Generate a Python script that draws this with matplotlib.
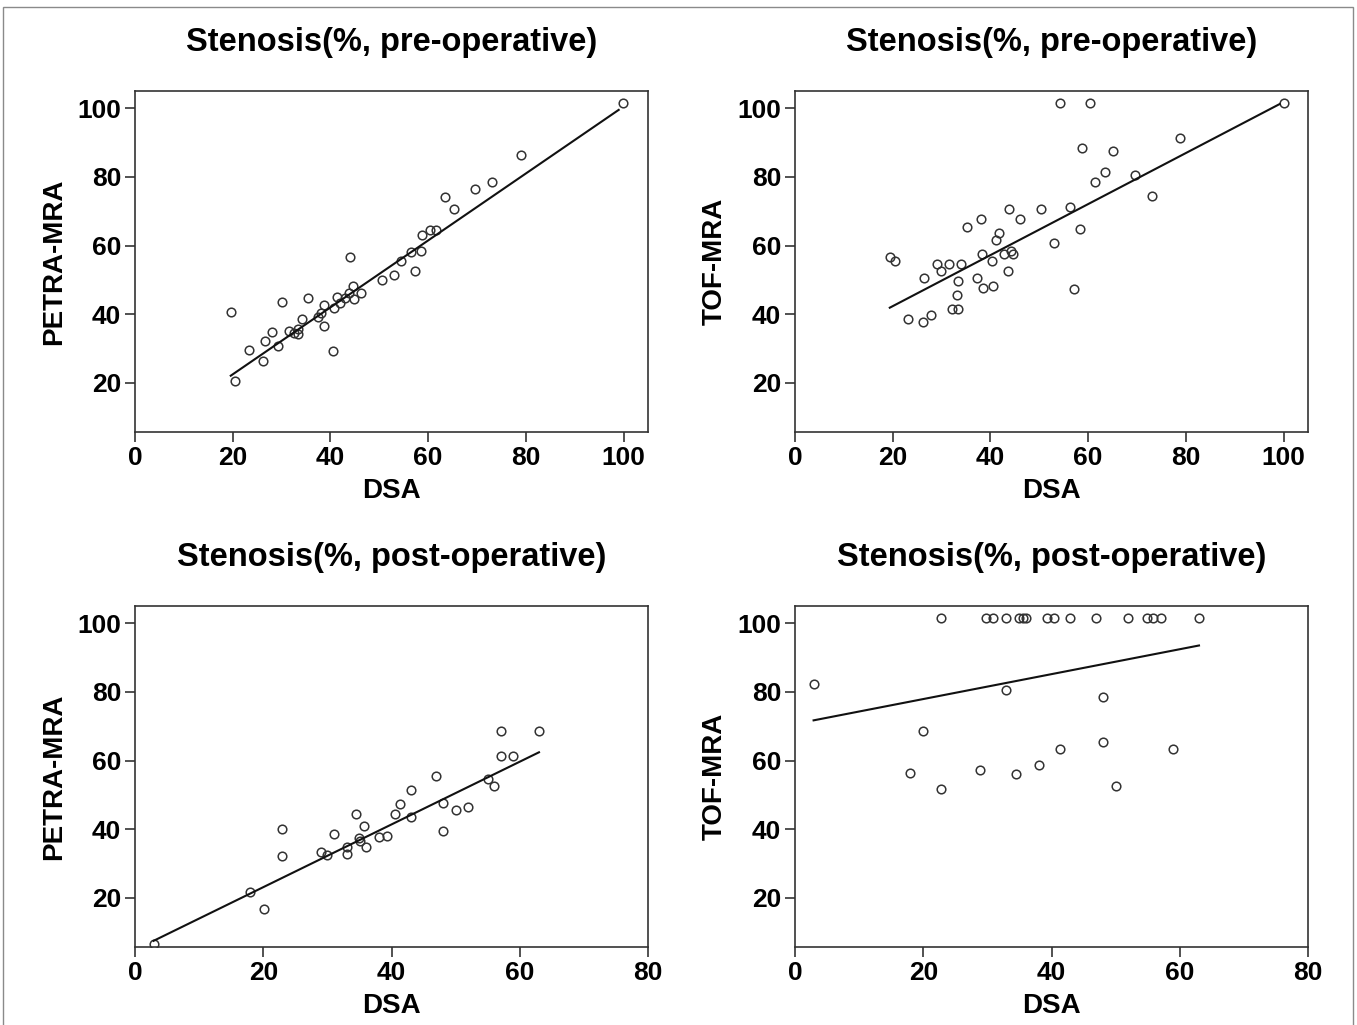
import numpy as np
import matplotlib
matplotlib.use("Agg")
import matplotlib.pyplot as plt
from matplotlib.patches import Rectangle

plt.rcParams['font.family'] = ['Liberation Sans', 'DejaVu Sans']

# ---- Data ----
# Pre-operative: DSA vs PETRA-MRA
pre_petra_dsa = [19.6, 20.5, 23.3, 26.3, 26.6, 28.0, 29.2, 30.0, 31.6, 32.6, 33.4, 33.4,
                 34.1, 35.4, 37.5, 38.0, 38.6, 38.6, 40.5, 40.8, 41.4, 42.0, 43.0, 43.7,
                 44.0, 44.7, 44.9, 46.3, 50.5, 53.1, 54.4, 56.4, 57.3, 58.5, 58.8, 60.4,
                 61.7, 63.5, 65.2, 69.6, 73.0, 79.0, 99.9]
pre_petra_mra = [40.7, 20.6, 29.5, 26.4, 32.2, 34.7, 30.6, 43.7, 35.1, 34.4, 34.1, 35.6,
                 38.5, 44.6, 39.3, 40.4, 36.6, 42.6, 29.3, 41.9, 45.0, 43.3, 44.6, 46.1,
                 56.6, 48.3, 44.5, 46.3, 49.9, 51.5, 55.5, 58.2, 52.5, 58.5, 63.1, 64.5,
                 64.5, 74.0, 70.6, 76.6, 78.6, 86.5, 101.5]
pre_petra_fit_x = [19.6, 99.0]
pre_petra_fit_y = [22.1, 99.5]

# Pre-operative: DSA vs TOF-MRA
pre_tof_dsa = [19.4, 20.5, 23.2, 26.2, 26.4, 27.8, 29.0, 29.8, 31.6, 32.1, 33.4, 33.2,
               33.3, 34.0, 35.2, 37.3, 38.0, 38.3, 38.5, 40.4, 40.6, 41.2, 41.7, 42.7,
               43.6, 43.8, 44.3, 44.7, 46.1, 50.4, 53.1, 54.2, 56.2, 57.2, 58.3, 58.8,
               60.3, 61.5, 63.4, 65.0, 69.6, 73.0, 78.9, 100.0]
pre_tof_mra = [56.6, 55.5, 38.7, 37.6, 50.5, 39.7, 54.5, 52.6, 54.5, 41.6, 41.6, 45.6,
               49.6, 54.5, 65.5, 50.5, 67.6, 57.5, 47.5, 55.5, 48.3, 61.6, 63.6, 57.5,
               52.6, 70.7, 58.5, 57.5, 67.6, 70.7, 60.6, 101.5, 71.1, 47.2, 64.7, 88.4,
               101.5, 78.6, 81.4, 87.5, 80.4, 74.4, 91.4, 101.5]
pre_tof_fit_x = [19.4, 99.2]
pre_tof_fit_y = [41.9, 101.2]

# Post-operative: DSA vs PETRA-MRA
post_petra_dsa = [3.0, 18.0, 20.1, 22.9, 23.0, 29.0, 30.0, 31.0, 33.0, 33.0, 34.4, 34.9,
                  35.1, 35.7, 36.0, 38.1, 39.3, 40.5, 41.4, 43.0, 43.0, 47.0, 48.0, 48.0,
                  50.0, 52.0, 55.0, 56.0, 57.0, 57.0, 59.0, 63.0]
post_petra_mra = [6.5, 21.6, 16.7, 40.0, 32.3, 33.4, 32.6, 38.6, 34.7, 32.7, 44.5, 37.5,
                  36.5, 40.8, 34.7, 37.8, 38.1, 44.3, 47.2, 51.4, 43.5, 55.5, 47.5, 39.6,
                  45.6, 46.6, 54.5, 52.5, 68.5, 61.4, 61.4, 68.5]
post_petra_fit_x = [2.9, 63.0]
post_petra_fit_y = [7.5, 62.4]

# Post-operative: DSA vs TOF-MRA
post_tof_dsa = [22.8, 29.8, 30.9, 32.9, 35.0, 35.5, 36.0, 39.3, 40.4, 42.9, 47.0, 52.0,
                54.9, 55.9, 57.0, 63.0,
                2.9, 20.0, 18.0, 22.7, 28.9, 32.9, 34.4, 38.0, 41.3, 48.0, 48.0, 50.0, 59.0]
post_tof_mra = [101.5] * 16 + [82.4, 68.5, 56.5, 51.6, 57.3, 80.4, 56.0, 58.8, 63.5,
                               78.6, 65.5, 52.5, 63.5]
post_tof_fit_x = [2.9, 63.0]
post_tof_fit_y = [71.7, 93.5]

titles = ["Stenosis(%, pre-operative)", "Stenosis(%, pre-operative)",
          "Stenosis(%, post-operative)", "Stenosis(%, post-operative)"]
ylabels = ["PETRA-MRA", "TOF-MRA", "PETRA-MRA", "TOF-MRA"]
xlabel = "DSA"
yticks = [20, 40, 60, 80, 100]
xticks_pre = [0, 20, 40, 60, 80, 100]
xticks_post = [0, 20, 40, 60, 80]

W, H = 1357, 1025
fig = plt.figure(figsize=(W / 100, H / 100), dpi=100)

def px_axes(left, top, right, bottom):
    return fig.add_axes([left / W, 1 - bottom / H, (right - left) / W, (bottom - top) / H])

panels = [
    (px_axes(135, 91, 648, 432), pre_petra_dsa, pre_petra_mra,
     pre_petra_fit_x, pre_petra_fit_y, (0, 105), xticks_pre),
    (px_axes(795, 91, 1308, 432), pre_tof_dsa, pre_tof_mra,
     pre_tof_fit_x, pre_tof_fit_y, (0, 105), xticks_pre),
    (px_axes(135, 606, 648, 947), post_petra_dsa, post_petra_mra,
     post_petra_fit_x, post_petra_fit_y, (0, 80), xticks_post),
    (px_axes(795, 606, 1308, 947), post_tof_dsa, post_tof_mra,
     post_tof_fit_x, post_tof_fit_y, (0, 80), xticks_post),
]

edge = '#333333'
for i, (ax, xs, ys, fx, fy, xlim, xt) in enumerate(panels):
    ax.plot(xs, ys, linestyle='none', marker='o', markersize=6.2,
            markerfacecolor='none', markeredgecolor=edge, markeredgewidth=1.1)
    ax.plot(fx, fy, color='#111111', linewidth=1.5)
    ax.set_xlim(*xlim)
    ax.set_ylim(5.7, 105)
    ax.set_xticks(xt)
    ax.set_yticks(yticks)
    for s in ax.spines.values():
        s.set_color(edge)
        s.set_linewidth(1.2)
    ax.tick_params(direction='out', length=7, width=1.2, color=edge, pad=3,
                   labelsize=19)
    for lab in ax.get_xticklabels() + ax.get_yticklabels():
        lab.set_fontweight('bold')
    ax.set_xlabel(xlabel, fontsize=20, fontweight='bold', labelpad=6)
    ax.set_ylabel(ylabels[i], fontsize=20, fontweight='bold', labelpad=7)
    ax.text(0.5, 1.142, titles[i], transform=ax.transAxes, ha='center', va='center',
            fontsize=23.5, fontweight='bold')

fig.patches.append(Rectangle((3 / W, -0.01), (1353 - 3) / W, 1 - 7 / H + 0.01,
                             transform=fig.transFigure, fill=False,
                             edgecolor='#8a8a8a', linewidth=1.0))

fig.savefig("out.png", dpi=100)
